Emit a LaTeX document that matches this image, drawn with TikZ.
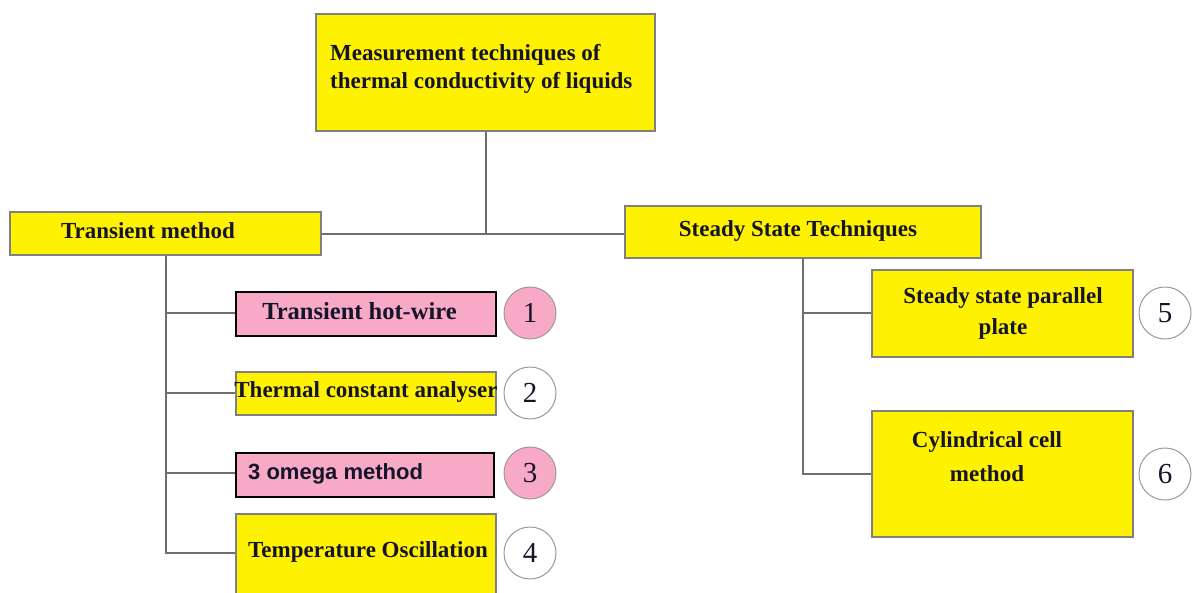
\documentclass[tikz,border=0pt]{standalone}
\usepackage{fontspec}
\setmainfont{Liberation Serif}
\setsansfont{Liberation Sans}
\definecolor{boxyellow}{HTML}{FFF200}
\definecolor{boxpink}{HTML}{F8A9C5}
\definecolor{boxgray}{HTML}{808080}
\definecolor{linegray}{HTML}{6E6E6E}
\definecolor{circgray}{HTML}{9A9A9A}
\definecolor{txt}{HTML}{14142A}
\begin{document}
\begin{tikzpicture}[x=1pt,y=-1pt,
  ybox/.style={draw=boxgray, fill=boxyellow, line width=1.3pt, inner sep=0pt},
  pbox/.style={draw=black, fill=boxpink, line width=1.6pt, inner sep=0pt},
  num/.style={circle, draw=circgray, line width=1pt, minimum size=52pt, inner sep=0pt, text=txt, font=\fontsize{29}{29}\selectfont},
  pnum/.style={num, fill=boxpink},
  lbl/.style={font=\fontsize{23}{31}\selectfont\bfseries, text=txt, inner sep=0pt},
  slbl/.style={font=\fontsize{22}{28}\selectfont\sffamily\bfseries, text=txt, inner sep=0pt},
  conn/.style={draw=linegray, line width=2pt}]
\useasboundingbox (0,0) rectangle (1192,592);
\fill[white] (0,0) rectangle (1192,592);

% top box
\node[ybox, minimum width=339pt, minimum height=117pt] (top) at (485.5,72.5) {};
\node[lbl, anchor=base west] (topt1) at (330,60) {Measurement techniques of};
\node[lbl, anchor=base west] (topt2) at (330,88) {thermal conductivity of liquids};

% level 1
\node[ybox, minimum width=311pt, minimum height=43pt] (trans) at (165.5,233.5) {};
\node[lbl] (transt) at (148,231) {Transient method};
\node[ybox, minimum width=356pt, minimum height=52pt] (steady) at (803,232) {};
\node[lbl] (steadyt) at (798,231) {Steady State Techniques};

% transient children
\node[pbox, minimum width=260pt, minimum height=44pt] (b1) at (366,314) {};
\node[lbl, font=\fontsize{24.5}{31}\selectfont\bfseries] (t1) at (359.5,311) {Transient hot-wire};
\node[ybox, minimum width=260pt, minimum height=43pt] (b2) at (366,393.5) {};
\node[lbl] (t2) at (366,392) {Thermal constant analyser};
\node[pbox, minimum width=258pt, minimum height=44pt] (b3) at (365,475) {};
\node[slbl, anchor=west] (t3) at (248,474) {3 omega method};
\node[ybox, minimum width=260pt, minimum height=86pt] (b4) at (366,557) {};
\node[lbl] (t4) at (368,552) {Temperature Oscillation};

\node[pnum] (c1) at (530,313) {1};
\node[num] (c2) at (530,393) {2};
\node[pnum] (c3) at (530,473) {3};
\node[num] (c4) at (530,553) {4};

% steady children
\node[ybox, minimum width=261pt, minimum height=87pt] (b5) at (1002.5,313.5) {};
\node[lbl, align=center] (t5) at (1003,313) {Steady state parallel\\plate};
\node[ybox, minimum width=261pt, minimum height=126pt] (b6) at (1002.5,474) {};
\node[lbl, align=center, font=\fontsize{23}{34}\selectfont\bfseries] (t6) at (987,457) {Cylindrical cell\\method};

\node[num] (c5) at (1165,313) {5};
\node[num] (c6) at (1165,474) {6};

% connectors
\draw[conn] (top.south) -- (top.south |- trans.east);
\draw[conn] (trans.east) -- (trans.east -| steady.west);
\draw[conn] (trans.south) |- (b4.west |- c4);
\draw[conn] (trans.south |- c1) -- (b1.west |- c1);
\draw[conn] (trans.south |- c2) -- (b2.west |- c2);
\draw[conn] (trans.south |- c3) -- (b3.west |- c3);
\draw[conn] (steady.south) |- (b6.west |- c6);
\draw[conn] (steady.south |- c5) -- (b5.west |- c5);
\end{tikzpicture}
\end{document}
